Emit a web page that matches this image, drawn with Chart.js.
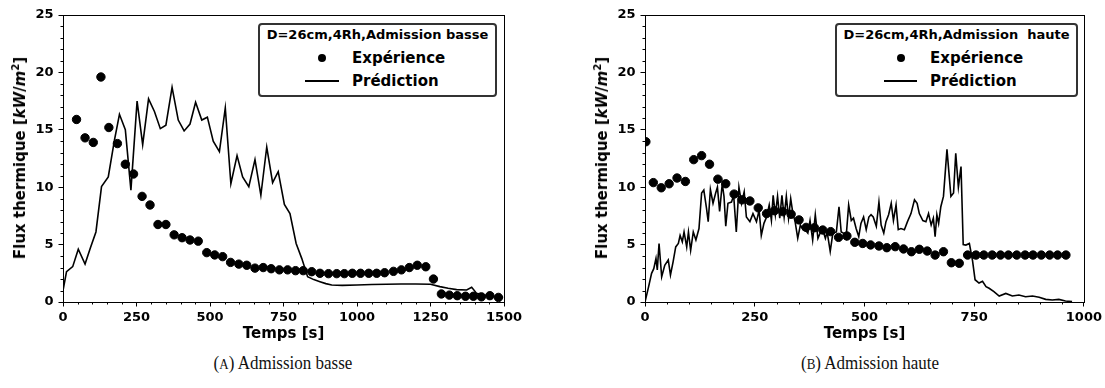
<!DOCTYPE html>
<html>
<head>
<meta charset="utf-8">
<script src="https://cdn.jsdelivr.net/npm/chart.js@4.4.1/dist/chart.umd.min.js"></script>
<style>
body{margin:0;background:#fff;width:1105px;height:388px;position:relative;overflow:hidden;font-family:'DejaVu Sans',sans-serif;color:#000;}
canvas{position:absolute;top:0;}
#c1{left:0}
#c2{left:582px}
.ytitle{position:absolute;top:158px;font:bold 15px 'DejaVu Sans';white-space:nowrap;transform:translate(-50%,-50%) rotate(-90deg);}
.ytitle i{font-style:italic}
.ytitle sup{font-size:10px;vertical-align:6px;line-height:0}
.leg{position:absolute;top:23px;height:74px;box-sizing:border-box;border:2px solid #333;border-radius:4px;background:#fff;}
.leg .t{position:absolute;left:0;right:0;top:2px;text-align:center;font:bold 13px/15px 'DejaVu Sans';white-space:pre;}
.leg .e{position:absolute;font:bold 15px/18px 'DejaVu Sans';white-space:nowrap;}
.leg .dot{position:absolute;width:8px;height:8px;border-radius:50%;background:#000;top:29px;}
.leg .ln{position:absolute;height:2px;background:#000;top:55px;}
.cap{position:absolute;top:354px;font:17px/20px 'Liberation Serif',serif;white-space:nowrap;transform:translateX(-50%) scaleY(1.1);color:#111;}
.cap span{font-size:13px}
</style>
</head>
<body>
<canvas id="c1" width="540" height="345"></canvas>
<canvas id="c2" width="523" height="345"></canvas>

<div class="ytitle" style="left:20px">Flux thermique [<i>kW</i>/<i>m</i><sup>2</sup>]</div>
<div class="ytitle" style="left:602px">Flux thermique [<i>kW</i>/<i>m</i><sup>2</sup>]</div>

<div class="leg" style="left:258px;width:239px">
  <div class="t">D=26cm,4Rh,Admission basse</div>
  <div class="dot" style="left:58px"></div>
  <div class="e" style="left:92px;top:24px">Expérience</div>
  <div class="ln" style="left:45px;width:34px"></div>
  <div class="e" style="left:92px;top:47px">Prédiction</div>
</div>
<div class="leg" style="left:835px;width:243px">
  <div class="t">D=26cm,4Rh,Admission  haute</div>
  <div class="dot" style="left:60px"></div>
  <div class="e" style="left:93px;top:24px">Expérience</div>
  <div class="ln" style="left:47px;width:33px"></div>
  <div class="e" style="left:93px;top:47px">Prédiction</div>
</div>

<div class="cap" style="left:283px">(<span>A</span>) Admission basse</div>
<div class="cap" style="left:870px">(<span>B</span>) Admission haute</div>

<script>
// Admission basse - experience
var bassExpT = [46,75,103,129,156,185,212,240,269,296,323,350,378,405,432,460,489,516,543,570,
  598,625,653,681,708,736,764,791,817,846,874,903,931,957,984,1012,1040,1067,1094,1124,
  1151,1178,1205,1234,1260,1287,1314,1341,1369,1396,1423,1452,1481];
var bassExpV = [15.9,14.3,13.9,19.6,15.2,13.8,12.0,11.15,9.2,8.45,6.75,6.75,5.85,5.6,5.4,5.3,4.3,4.1,3.95,3.45,
  3.3,3.2,2.95,3.0,2.9,2.8,2.8,2.73,2.73,2.64,2.5,2.47,2.47,2.47,2.5,2.5,2.5,2.5,2.55,2.67,
  2.8,3.0,3.2,3.07,2.0,0.7,0.6,0.55,0.5,0.5,0.45,0.55,0.4];
// Admission basse - prediction
var bassPredT = [0,12,33,52,75,93,112,131,154,175,192,212,231,252,271,291,311,331,350,371,392,412,432,451,472,491,511,532,552,
  571,592,611,632,653,673,693,713,732,753,772,793,812,832,853,874,894,914,950,1000,1050,1100,1150,1200,1250,1282,1310,1339,1373,1390,1407,1430,1464,1497];
var bassPredV = [1.0,2.64,3.08,4.6,3.3,4.7,6.1,10.05,10.9,14.1,16.35,15.0,9.75,17.5,13.7,17.7,16.6,15.1,15.4,18.7,15.85,14.9,15.5,17.4,15.85,16.1,14.0,13.1,16.9,
  10.3,12.75,10.9,10.05,12.4,9.3,13.5,10.4,11.35,8.5,7.7,5.1,3.8,2.2,1.95,1.77,1.6,1.48,1.45,1.48,1.52,1.55,1.57,1.57,1.55,1.34,1.2,1.08,1.05,1.28,0.75,0.6,0.46,0.4];

// Admission haute - experience
var hautExpT = [2,19,37,55,73,92,111,129,147,166,184,203,221,239,258,277,295,314,333,351,
  367,386,405,423,441,460,478,496,514,533,551,570,589,607,625,643,661,680,698,716,
  735,754,772,791,810,828,847,866,884,903,922,940,959];
var hautExpV = [13.96,10.4,9.95,10.3,10.8,10.5,12.4,12.75,12.0,10.7,10.3,9.4,8.9,8.8,8.2,7.7,7.95,7.87,7.64,7.15,
  6.5,6.47,6.27,6.13,5.63,5.75,5.2,5.1,4.97,4.88,4.73,4.82,4.62,4.38,4.59,4.44,4.09,4.38,3.42,3.37,
  4.09,4.09,4.09,4.09,4.09,4.09,4.09,4.09,4.09,4.09,4.09,4.09,4.09];
// Admission haute - prediction
var hautPredT = [0,8,15,20,25,28,32,38,45,53,58,64,70,76,80,85,89,95,99,104,110,116,123,129,134,140,144,149,155,161,165,170,176,180,184,189,197,
  202,208,214,220,226,231,239,246,254,260,265,271,277,283,288,292,297,302,307,312,317,322,327,332,337,342,348,354,360,365,371,376,382,388,394,399,
  405,411,415,422,428,436,442,447,452,458,464,470,475,481,487,492,498,504,510,515,520,527,533,538,544,549,555,561,566,572,577,583,591,598,
  606,614,620,625,633,640,646,652,657,661,665,669,674,680,688,697,703,708,714,720,725,731,739,746,752,761,769,777,784,795,807,822,837,852,867,883,898,913,928,943,958,973];
var hautPredV = [0,1.3,2.5,2.9,3.8,2.8,5.1,2.2,3.2,3.66,2.35,3.5,4.8,5.1,5.8,5.25,6.1,4.8,6.1,4.5,6.1,5.4,6.4,9.5,9.75,8.2,7.0,9.8,8.6,9.5,10.0,7.9,10.3,9.2,6.6,8.6,8.7,
  9.3,6.1,10.0,8.6,9.6,7.4,7.0,7.7,7.0,8.0,5.8,6.85,7.4,8.45,7.1,9.3,7.6,9.2,7.3,9.3,7.4,9.2,7.3,9.0,7.7,7.0,5.55,6.7,6.3,6.3,6.0,7.1,5.4,7.6,5.55,6.0,
  6.3,5.55,6.1,4.4,6.0,6.1,8.3,6.1,6.0,5.55,8.45,7.1,7.3,6.4,5.7,6.85,7.4,6.3,7.4,7.6,7.4,6.6,8.7,6.7,6.0,7.0,7.6,8.6,7.1,8.45,6.3,6.4,6.3,7.0,
  7.7,8.9,8.6,7.7,7.1,7.0,7.7,6.7,7.3,5.7,7.6,6.85,8.3,9.2,13.3,9.2,9.5,12.95,10.0,11.8,5.0,4.96,5.1,3.66,1.94,1.65,1.8,1.34,1.2,0.9,0.52,0.75,0.52,0.61,0.46,0.52,0.42,0.23,0.17,0.23,0.09,0.03];

var yMax = 25, yStep = 5, yMinor = 1;
var xStep = 250, xMinor = 50;

function pts(t, v) {
  var out = [];
  for (let i = 0; i < t.length; i++) out.push({x: t[i], y: v[i]});
  return out;
}

// frame (top/right spines) and minor ticks
var frame = {
  id: 'frame',
  afterDraw(chart) {
    var ctx = chart.ctx, a = chart.chartArea, x = chart.scales.x, y = chart.scales.y;
    ctx.save();
    ctx.strokeStyle = '#000';
    ctx.lineWidth = 1;
    ctx.strokeRect(Math.round(a.left) + 0.5, Math.round(a.top) + 0.5, Math.round(a.right - a.left), Math.round(a.bottom - a.top));
    ctx.beginPath();
    for (let v = 0; v <= x.max; v += xMinor) {
      if (v % xStep === 0) continue;
      var px = Math.round(x.getPixelForValue(v)) + 0.5;
      ctx.moveTo(px, a.bottom); ctx.lineTo(px, a.bottom + 2.5);
    }
    for (let v = 0; v <= y.max; v += yMinor) {
      if (v % yStep === 0) continue;
      var py = Math.round(y.getPixelForValue(v)) + 0.5;
      ctx.moveTo(a.left - 2.5, py); ctx.lineTo(a.left, py);
    }
    ctx.stroke();
    ctx.restore();
  }
};

Chart.defaults.font.family = "'DejaVu Sans'";
Chart.defaults.color = '#000';

function makeChart(id, expT, expV, predT, predV, xMax, padRight) {
  var ctx = document.getElementById(id).getContext('2d');
  return new Chart(ctx, {
    type: 'scatter',
    data: {
      datasets: [{
          label: 'Expérience',
          data: pts(expT, expV),
          backgroundColor: '#000',
          borderColor: '#000',
          pointRadius: 4.2,
          pointHoverRadius: 4.2,
          order: 0
        },
        {
          label: 'Prédiction',
          data: pts(predT, predV),
          showLine: true,
          borderColor: '#000',
          borderWidth: 1.6,
          pointRadius: 0,
          tension: 0,
          order: 1
        }
      ]
    },
    options: {
      responsive: false,
      animation: false,
      devicePixelRatio: 1,
      layout: {padding: {top: 15, right: padRight, left: 0, bottom: 0}},
      plugins: {legend: {display: false}, tooltip: {enabled: false}},
      scales: {
        x: {
          type: 'linear',
          min: 0,
          max: xMax,
          afterFit: function(s) { s.height = 43; },
          ticks: {stepSize: xStep, maxRotation: 0, padding: 3, font: {size: 13, weight: 'bold'},
                  callback: function(v) { return String(v); }},
          grid: {drawOnChartArea: false, tickLength: 4.5, tickColor: '#000'},
          border: {color: '#000', width: 1},
          title: {display: true, text: 'Temps [s]', font: {size: 15, weight: 'bold'}, padding: {top: 0, bottom: 2}}
        },
        y: {
          min: 0,
          max: yMax,
          afterFit: function(s) { s.width = 63; },
          ticks: {stepSize: yStep, padding: 5, font: {size: 13, weight: 'bold'},
                  callback: function(v) { return String(v); }},
          grid: {drawOnChartArea: false, tickLength: 4.5, tickColor: '#000'},
          border: {color: '#000', width: 1}
        }
      }
    },
    plugins: [frame]
  });
}

var chart1 = makeChart('c1', bassExpT, bassExpV, bassPredT, bassPredV, 1500, 36);
var chart2 = makeChart('c2', hautExpT, hautExpV, hautPredT, hautPredV, 1000, 18);
</script>
</body>
</html>
